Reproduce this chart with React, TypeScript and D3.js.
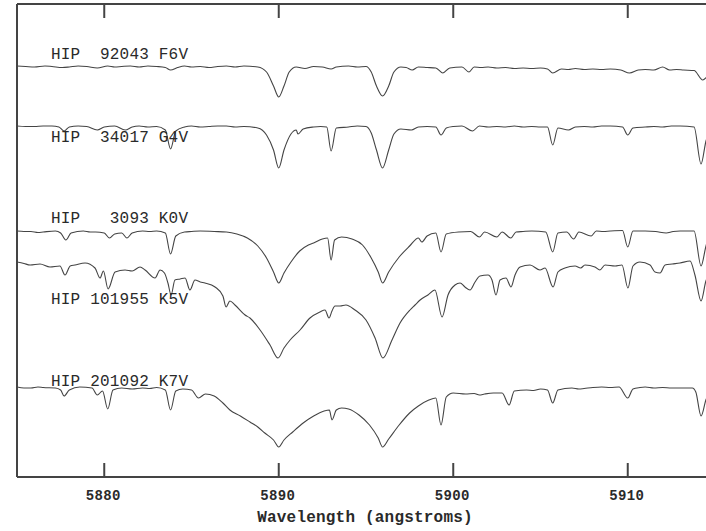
import React from "react";
import * as d3 from "d3";

// Wavelength (Å), normalized flux pairs for each star
const hip92043: [number, number][] = [
  [5875.0, 1.0], [5875.5, 0.995], [5876.0, 0.99], [5876.6, 1.0], [5877.0, 0.995], [5877.6, 0.985], [5878.0, 0.99], [5878.5, 1.0],
  [5879.0, 0.995], [5879.6, 0.98], [5880.2, 1.0], [5880.6, 0.99], [5881.0, 0.995], [5881.5, 1.0], [5882.0, 0.99], [5882.5, 1.0],
  [5883.0, 0.995], [5883.5, 0.985], [5883.8, 0.96], [5884.2, 0.985], [5884.6, 1.0], [5885.0, 0.99], [5885.5, 0.995], [5886.0, 0.985],
  [5886.5, 0.995], [5887.0, 1.0], [5887.5, 0.99], [5888.0, 1.0], [5888.8, 0.99], [5889.3, 0.94], [5889.7, 0.8], [5890.0, 0.69],
  [5890.3, 0.8], [5890.6, 0.94], [5891.0, 0.99], [5891.5, 0.975], [5892.0, 0.995], [5892.5, 0.99], [5893.0, 0.97], [5893.3, 0.99],
  [5894.0, 1.0], [5894.5, 0.99], [5895.0, 0.995], [5895.3, 0.94], [5895.6, 0.8], [5895.95, 0.7], [5896.3, 0.8], [5896.6, 0.94],
  [5897.0, 0.99], [5897.3, 0.985], [5897.65, 0.96], [5898.0, 0.99], [5898.5, 0.985], [5899.0, 0.98], [5899.4, 0.93], [5899.8, 0.98],
  [5900.5, 0.99], [5900.9, 0.94], [5901.2, 0.99], [5901.6, 0.985], [5902.0, 0.99], [5902.5, 0.98], [5903.0, 0.985], [5903.5, 0.975],
  [5904.0, 0.98], [5904.5, 0.975], [5905.0, 0.98], [5905.4, 0.97], [5905.7, 0.93], [5906.2, 0.97], [5906.6, 0.965], [5907.0, 0.975],
  [5907.5, 0.965], [5908.0, 0.97], [5908.5, 0.965], [5909.0, 0.97], [5909.6, 0.96], [5910.1, 0.93], [5910.6, 0.96], [5911.0, 0.965],
  [5911.5, 0.96], [5912.0, 0.99], [5912.4, 0.96], [5912.8, 0.965], [5913.2, 0.96], [5913.8, 0.955], [5914.3, 0.86], [5914.6, 0.9], [5915.0, 0.94],
];

const hip34017: [number, number][] = [
  [5875.0, 1.0], [5875.5, 0.995], [5876.0, 0.995], [5876.5, 1.0], [5877.0, 1.0], [5877.4, 0.99], [5877.7, 0.95], [5878.0, 0.99],
  [5878.5, 1.0], [5879.0, 0.995], [5879.6, 0.96], [5880.0, 0.99], [5880.6, 1.0], [5881.2, 0.96], [5881.6, 0.99], [5882.0, 1.0],
  [5882.5, 0.99], [5883.0, 0.995], [5883.5, 0.96], [5883.8, 0.77], [5884.1, 0.95], [5884.6, 0.99], [5885.0, 1.0], [5885.5, 0.99],
  [5886.0, 0.995], [5886.5, 1.0], [5887.0, 1.0], [5887.5, 0.99], [5888.0, 0.995], [5888.8, 0.98], [5889.3, 0.91], [5889.7, 0.76],
  [5890.0, 0.58], [5890.3, 0.76], [5890.7, 0.92], [5891.0, 0.96], [5891.1, 0.92], [5891.4, 0.97], [5892.0, 0.99], [5892.4, 0.995],
  [5892.75, 0.99], [5893.0, 0.75], [5893.3, 0.98], [5894.0, 0.99], [5894.5, 1.0], [5895.0, 0.995], [5895.3, 0.93], [5895.6, 0.76],
  [5895.95, 0.58], [5896.3, 0.76], [5896.6, 0.92], [5897.0, 0.97], [5897.6, 0.96], [5898.0, 0.99], [5898.5, 0.995], [5899.0, 0.99],
  [5899.3, 0.91], [5899.6, 0.98], [5900.0, 0.995], [5900.5, 1.0], [5901.1, 0.95], [5901.5, 1.0], [5902.0, 0.99], [5902.5, 0.995],
  [5903.0, 0.99], [5903.5, 1.0], [5904.0, 0.99], [5904.5, 0.995], [5905.0, 0.99], [5905.4, 0.99], [5905.7, 0.81], [5906.0, 0.98],
  [5906.6, 0.96], [5907.0, 0.99], [5907.5, 0.995], [5908.0, 0.99], [5908.5, 1.0], [5909.0, 1.0], [5909.7, 0.99], [5910.0, 0.91],
  [5910.3, 0.98], [5911.0, 0.99], [5911.5, 0.995], [5912.0, 0.99], [5912.5, 1.0], [5913.0, 1.0], [5913.8, 0.99], [5914.2, 0.62],
  [5914.5, 0.86], [5915.0, 0.98],
];

const hip3093: [number, number][] = [
  [5875.0, 1.0], [5875.4, 0.995], [5875.8, 0.995], [5876.2, 0.985], [5876.5, 0.99], [5877.2, 1.0], [5877.5, 0.98], [5877.8, 0.91],
  [5878.1, 0.98], [5878.8, 1.0], [5879.2, 0.99], [5879.5, 0.99], [5880.0, 0.98], [5880.3, 0.93], [5880.6, 0.97], [5881.0, 0.98],
  [5881.3, 0.93], [5881.6, 0.98], [5882.2, 1.0], [5882.6, 0.995], [5883.0, 1.0], [5883.5, 0.98], [5883.8, 0.77], [5884.1, 0.95],
  [5884.6, 0.99], [5885.0, 0.995], [5885.5, 1.0], [5886.3, 0.995], [5887.0, 0.99], [5887.6, 0.97], [5888.2, 0.93], [5888.8, 0.85],
  [5889.3, 0.73], [5889.7, 0.59], [5890.0, 0.48], [5890.3, 0.58], [5890.7, 0.69], [5891.2, 0.8], [5891.7, 0.86], [5892.0, 0.88],
  [5892.5, 0.92], [5892.8, 0.93], [5893.0, 0.71], [5893.2, 0.91], [5893.6, 0.94], [5894.2, 0.92], [5894.8, 0.86], [5895.3, 0.73],
  [5895.7, 0.59], [5895.95, 0.48], [5896.3, 0.59], [5896.9, 0.74], [5897.5, 0.85], [5898.0, 0.93], [5898.2, 0.89], [5898.5, 0.95],
  [5899.0, 0.98], [5899.3, 0.79], [5899.6, 0.97], [5900.3, 0.99], [5901.0, 0.995], [5901.5, 0.94], [5901.8, 0.99], [5902.5, 0.94],
  [5902.8, 0.99], [5903.3, 0.93], [5903.6, 0.99], [5904.0, 0.995], [5904.5, 1.0], [5905.3, 0.99], [5905.7, 0.79], [5906.0, 0.98],
  [5906.5, 0.99], [5906.9, 0.92], [5907.2, 0.99], [5907.9, 0.95], [5908.2, 1.0], [5908.6, 0.995], [5909.0, 1.0], [5909.7, 1.005],
  [5910.0, 0.84], [5910.3, 1.0], [5911.0, 1.0], [5911.6, 0.995], [5912.2, 0.98], [5912.6, 0.995], [5913.0, 1.0], [5913.8, 1.0],
  [5914.2, 0.65], [5914.5, 0.86], [5915.0, 0.99],
];

const hip101955: [number, number][] = [
  [5875.0, 0.99], [5875.4, 0.975], [5875.75, 0.96], [5876.32, 0.97], [5876.89, 0.94], [5877.46, 0.95], [5877.75, 0.86], [5878.05, 0.95],
  [5878.32, 0.96], [5878.9, 0.98], [5879.47, 0.93], [5879.76, 0.83], [5879.95, 0.9], [5880.22, 0.72], [5880.62, 0.89], [5881.19, 0.91],
  [5881.6, 0.9], [5882.05, 0.94], [5882.34, 0.91], [5882.91, 0.83], [5883.2, 0.91], [5883.45, 0.88], [5883.65, 0.78], [5883.83, 0.66],
  [5884.05, 0.81], [5884.35, 0.82], [5884.63, 0.83], [5884.91, 0.71], [5885.2, 0.81], [5885.5, 0.79], [5885.77, 0.78], [5886.35, 0.74],
  [5886.8, 0.65], [5886.98, 0.54], [5887.2, 0.6], [5887.49, 0.56], [5888.07, 0.46], [5888.35, 0.43], [5888.93, 0.31], [5889.5, 0.16],
  [5889.96, 0.03], [5890.3, 0.13], [5890.65, 0.21], [5891.22, 0.31], [5891.79, 0.43], [5892.36, 0.49], [5892.65, 0.51], [5892.88, 0.43],
  [5893.05, 0.5], [5893.22, 0.55], [5893.51, 0.55], [5893.85, 0.56], [5894.37, 0.51], [5895.0, 0.41], [5895.52, 0.23], [5895.97, 0.03],
  [5896.49, 0.21], [5896.95, 0.38], [5897.52, 0.51], [5897.81, 0.56], [5898.1, 0.61], [5898.55, 0.66], [5898.95, 0.71], [5899.36, 0.44],
  [5899.7, 0.66], [5900.1, 0.76], [5900.39, 0.78], [5900.67, 0.74], [5900.96, 0.71], [5901.25, 0.79], [5901.53, 0.85], [5901.99, 0.86],
  [5902.22, 0.81], [5902.45, 0.66], [5902.68, 0.81], [5903.02, 0.83], [5903.31, 0.74], [5903.54, 0.86], [5903.83, 0.94], [5904.4, 0.96],
  [5904.97, 0.91], [5905.26, 0.93], [5905.72, 0.74], [5906.0, 0.89], [5906.4, 0.93], [5906.98, 0.95], [5907.3, 0.93], [5907.55, 0.96],
  [5908.12, 0.94], [5908.4, 0.91], [5908.7, 0.96], [5909.27, 0.95], [5909.67, 0.96], [5910.01, 0.73], [5910.3, 0.95], [5910.7, 0.99],
  [5911.28, 0.96], [5911.56, 0.89], [5911.85, 0.88], [5912.14, 0.96], [5912.55, 0.97], [5912.99, 0.98], [5913.57, 1.0], [5913.85, 0.86],
  [5914.2, 0.6], [5914.48, 0.8], [5915.0, 0.93],
];

const hip201092: [number, number][] = [
  [5875.0, 1.0], [5875.4, 0.99], [5875.8, 0.99], [5876.2, 1.0], [5876.5, 0.995], [5877.2, 0.99], [5877.5, 0.97], [5877.7, 0.91],
  [5878.0, 0.97], [5878.6, 1.0], [5879.3, 0.99], [5879.6, 0.92], [5879.9, 0.96], [5880.2, 0.78], [5880.5, 0.97], [5881.0, 0.99],
  [5881.6, 0.98], [5882.2, 0.99], [5882.6, 0.985], [5883.0, 0.995], [5883.5, 0.97], [5883.8, 0.77], [5884.1, 0.96], [5884.5, 0.98],
  [5885.0, 0.97], [5885.4, 0.89], [5885.8, 0.93], [5886.3, 0.91], [5886.8, 0.84], [5887.2, 0.77], [5887.8, 0.71], [5888.35, 0.65],
  [5888.8, 0.6], [5889.2, 0.54], [5889.7, 0.47], [5890.0, 0.4], [5890.3, 0.47], [5890.8, 0.55], [5891.4, 0.64], [5892.0, 0.71],
  [5892.6, 0.76], [5892.9, 0.77], [5893.05, 0.67], [5893.3, 0.77], [5893.6, 0.79], [5894.0, 0.78], [5894.6, 0.72], [5895.2, 0.62],
  [5895.7, 0.49], [5895.95, 0.4], [5896.3, 0.48], [5896.9, 0.62], [5897.5, 0.74], [5898.0, 0.81], [5898.6, 0.87], [5899.0, 0.89],
  [5899.3, 0.62], [5899.6, 0.9], [5900.0, 0.94], [5900.7, 0.93], [5901.2, 0.935], [5901.5, 0.92], [5901.8, 0.93], [5902.3, 0.94],
  [5902.8, 0.94], [5903.2, 0.82], [5903.5, 0.96], [5904.2, 0.97], [5904.6, 0.965], [5905.0, 0.98], [5905.4, 0.97], [5905.7, 0.84],
  [5906.0, 0.97], [5906.8, 0.99], [5907.2, 0.98], [5907.5, 0.985], [5908.0, 0.995], [5908.5, 1.0], [5909.0, 0.995], [5909.5, 1.0],
  [5910.0, 0.89], [5910.3, 0.98], [5910.7, 0.995], [5911.0, 1.0], [5911.5, 0.99], [5912.0, 0.995], [5912.5, 0.99], [5913.0, 0.99],
  [5913.7, 0.99], [5913.9, 0.95], [5914.2, 0.71], [5914.5, 0.88], [5915.0, 0.97],
];

const starLabels = ["HIP  92043 F6V", "HIP  34017 G4V", "HIP   3093 K0V", "HIP 101955 K5V", "HIP 201092 K7V"];
const spectra = [hip92043, hip34017, hip3093, hip101955, hip201092];
const offsets = [3.11, 2.51, 1.46, 1.16, -0.1];
const labelLevels = [4.18, 3.35, 2.54, 1.73, 0.91];
const xTicks = [5880, 5890, 5900, 5910];
const xDomain: [number, number] = [5875, 5915];
const yDomain: [number, number] = [0, 4.73];
const xTitle = "Wavelength (angstroms)";

export default function App() {
  const W = 706;
  const H = 531;
  const left = 17;
  const top = 4;
  const bottom = 477;
  const x = d3.scaleLinear().domain(xDomain).range([left, left + 698]);
  const y = d3.scaleLinear().domain(yDomain).range([bottom, top]);
  const ink = "#444";
  const mono = "'Liberation Mono', 'DejaVu Sans Mono', monospace";

  return (
    <svg
      width={W}
      height={H}
      style={{ position: "absolute", left: 0, top: 0, background: "#fff" }}
    >
      <rect x={0} y={0} width={W} height={H} fill="#fff" />
      <defs>
        <clipPath id="plotclip">
          <rect x={left} y={top} width={W - left} height={bottom - top} />
        </clipPath>
      </defs>
      <g clipPath="url(#plotclip)">
        {spectra.map((s, i) => {
          const line = d3
            .line<[number, number]>()
            .curve(d3.curveMonotoneX)
            .x((d) => x(d[0]))
            .y((d) => y(d[1] + offsets[i]));
          return (
            <path key={i} d={line(s) || ""} fill="none" stroke={ink} strokeWidth={1.1} strokeLinejoin="round" />
          );
        })}
      </g>
      {starLabels.map((t, i) => (
        <text
          key={t}
          x={51}
          y={y(labelLevels[i])}
          fontFamily={mono}
          fontSize={16}
          letterSpacing={0.2}
          fill="#2a2a2a"
          style={{ whiteSpace: "pre" }}
          xmlSpace="preserve"
        >
          {t}
        </text>
      ))}
      {/* frame */}
      <line x1={left} y1={top} x2={W} y2={top} stroke={ink} strokeWidth={2} />
      <line x1={left} y1={top} x2={left} y2={bottom} stroke={ink} strokeWidth={2} />
      <line x1={left} y1={bottom} x2={W} y2={bottom} stroke={ink} strokeWidth={2} />
      {xTicks.map((t) => (
        <g key={t}>
          <line x1={x(t)} x2={x(t)} y1={top} y2={top + 14} stroke={ink} strokeWidth={2} />
          <line x1={x(t)} x2={x(t)} y1={bottom} y2={bottom - 14} stroke={ink} strokeWidth={2} />
          <text
            x={x(t) - 1}
            y={500}
            textAnchor="middle"
            fontFamily={mono}
            fontSize={14}
            fontWeight="bold"
            letterSpacing={0.4}
            fill="#2a2a2a"
          >
            {t}
          </text>
        </g>
      ))}
      <text
        x={365}
        y={522}
        textAnchor="middle"
        fontFamily={mono}
        fontSize={16}
        fontWeight="bold"
        letterSpacing={0.2}
        fill="#2a2a2a"
      >
        {xTitle}
      </text>
    </svg>
  );
}
